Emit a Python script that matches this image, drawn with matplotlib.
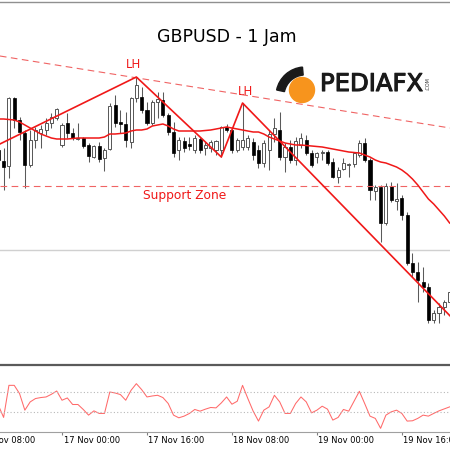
import matplotlib
matplotlib.use("Agg")
import matplotlib.pyplot as plt
import matplotlib.patheffects as pe
from matplotlib.patches import Circle, Wedge
from matplotlib.transforms import offset_copy

# jam relatif terhadap 17 Nov 00:00
hours = list(range(-12, 74))

opens = [1.3450, 1.3439, 1.3434, 1.3502, 1.3480, 1.3467, 1.3435, 1.3460, 1.3467, 1.3470,
         1.3477, 1.3482, 1.3455, 1.3477, 1.3467, 1.34615, 1.3462, 1.3455, 1.3443, 1.3454,
         1.3442, 1.3451, 1.3495, 1.3478, 1.3476, 1.3458, 1.3502, 1.3503, 1.3490, 1.3477,
         1.3498, 1.3500, 1.3485, 1.3468, 1.3450, 1.3459, 1.3456, 1.3450, 1.3461, 1.3452,
         1.3452, 1.3450, 1.3450, 1.3473, 1.3470, 1.3450, 1.3453, 1.3453, 1.3458, 1.3450,
         1.3437, 1.3450, 1.3466, 1.3470, 1.3443, 1.3453, 1.3440, 1.3455, 1.3460, 1.3447,
         1.3443, 1.3447, 1.3448, 1.3438, 1.3423, 1.3431, 1.3435, 1.3436, 1.3445, 1.3457,
         1.3440, 1.3409, 1.3413, 1.3377, 1.3414, 1.3399, 1.3402, 1.3385, 1.3337, 1.3328,
         1.3318, 1.3313, 1.3280, 1.3287, 1.3293, 1.3298]
highs = [1.3455, 1.3452, 1.3503, 1.3503, 1.3483, 1.3470, 1.3470, 1.3473, 1.3475, 1.3482,
         1.3487, 1.3492, 1.3477, 1.3487, 1.3472, 1.3477, 1.3463, 1.3457, 1.3455, 1.3458,
         1.3452, 1.3497, 1.3505, 1.3490, 1.3488, 1.3503, 1.3523, 1.3513, 1.3498, 1.3500,
         1.3508, 1.3508, 1.3487, 1.3478, 1.3463, 1.3463, 1.3463, 1.3465, 1.3463, 1.3458,
         1.3460, 1.3460, 1.3474, 1.3476, 1.3472, 1.3462, 1.3497, 1.3465, 1.3462, 1.3455,
         1.3460, 1.3470, 1.3482, 1.3488, 1.3457, 1.3460, 1.3463, 1.3467, 1.3465, 1.3450,
         1.3448, 1.3450, 1.3450, 1.3442, 1.3433, 1.3442, 1.3437, 1.3448, 1.3460, 1.3462,
         1.3442, 1.3415, 1.3415, 1.3417, 1.3418, 1.3417, 1.3405, 1.3388, 1.3347, 1.3338,
         1.3333, 1.3317, 1.3290, 1.3297, 1.3300, 1.3310]
lows = [1.3410, 1.3410, 1.3422, 1.3472, 1.3460, 1.3412, 1.3433, 1.3452, 1.3452, 1.3465,
        1.3472, 1.3480, 1.3453, 1.3462, 1.3460, 1.3460, 1.3452, 1.3438, 1.3442, 1.3438,
        1.3429, 1.3450, 1.3473, 1.3467, 1.3453, 1.3452, 1.3498, 1.3487, 1.3475, 1.3475,
        1.3482, 1.3483, 1.3465, 1.3443, 1.3440, 1.3448, 1.3450, 1.3447, 1.3447, 1.3445,
        1.3448, 1.3445, 1.3443, 1.3468, 1.3447, 1.3448, 1.3450, 1.3450, 1.3440, 1.3432,
        1.3433, 1.3430, 1.3458, 1.3440, 1.3428, 1.3437, 1.3435, 1.3452, 1.3445, 1.3433,
        1.3437, 1.3440, 1.3435, 1.3422, 1.3417, 1.3430, 1.3423, 1.3433, 1.3443, 1.3438,
        1.3400, 1.3400, 1.3358, 1.3375, 1.3398, 1.3390, 1.3380, 1.3335, 1.3323, 1.3298,
        1.3308, 1.3277, 1.3277, 1.3277, 1.3285, 1.3295]
closes = [1.3440, 1.3433, 1.3502, 1.3480, 1.3468, 1.3435, 1.3460, 1.3470, 1.3471, 1.3477,
          1.3483, 1.3491, 1.3475, 1.3467, 1.3462, 1.34625, 1.3454, 1.3444, 1.3454, 1.3441,
          1.3450, 1.3494, 1.3477, 1.3476, 1.3460, 1.3502, 1.3515, 1.3490, 1.3477, 1.3498,
          1.3501, 1.3485, 1.3468, 1.3447, 1.3460, 1.3452, 1.3454, 1.3462, 1.3450, 1.3455,
          1.3458, 1.3459, 1.3473, 1.3470, 1.3450, 1.3460, 1.3460, 1.3462, 1.3445, 1.3437,
          1.3457, 1.3466, 1.3472, 1.3443, 1.3453, 1.3440, 1.3459, 1.3462, 1.3447, 1.3435,
          1.3447, 1.3448, 1.3437, 1.3423, 1.3430, 1.3437, 1.3436, 1.3447, 1.3457, 1.3440,
          1.3410, 1.3413, 1.3377, 1.3414, 1.3400, 1.3401, 1.3385, 1.3337, 1.3328, 1.3320,
          1.3313, 1.3280, 1.3287, 1.3293, 1.3298, 1.3308]
ma = [1.3481, 1.3481, 1.34805, 1.3480, 1.3478, 1.3475, 1.3472, 1.3469, 1.3466, 1.3464,
      1.3462, 1.3461, 1.3461, 1.3461, 1.34615, 1.3462, 1.3462, 1.3462, 1.3462, 1.3462,
      1.3463, 1.3466, 1.3466, 1.34665, 1.3467, 1.3469, 1.3470, 1.3470, 1.3471, 1.3474,
      1.3475, 1.3476, 1.3474, 1.3471, 1.3469, 1.3469, 1.3469, 1.3469, 1.3469, 1.34695,
      1.3470, 1.3471, 1.3472, 1.3473, 1.3472, 1.3471, 1.3470, 1.3469, 1.3468, 1.3468,
      1.3466, 1.3463, 1.3461, 1.3459, 1.3457, 1.3456, 1.3455, 1.3455, 1.34545, 1.3454,
      1.34535, 1.3453, 1.3452, 1.3451, 1.3450, 1.3449, 1.3448, 1.34475, 1.3447, 1.3445,
      1.3443, 1.3440, 1.3438, 1.3437, 1.3435, 1.3433, 1.3430, 1.3426, 1.3421, 1.3415,
      1.3408, 1.3401, 1.3396, 1.3390, 1.3384, 1.3377]
cci = [-30, -153, 170, 170, 87, -80, 3, 37, 47, 53,
       80, 113, 20, 43, -23, -23, -73, -130, -87, -113,
       -113, 103, 93, 77, 20, 120, 187, 127, 53, 63,
       70, 47, -13, -130, -157, -140, -113, -73, -90, -70,
       -53, -57, -7, 53, -20, 10, 170, 37, -90, -190,
       -80, -47, 70, 3, -113, -113, -13, 53, 3, -107,
       -80, -40, -70, -180, -153, -73, -90, 10, 110, -13,
       -140, -163, -263, -130, -97, -80, -113, -190, -187, -163,
       -130, -140, -113, -87, -67, -47]

# garis analisa
trend_h = [-11.7, 73.1]
trend_p = [1.3544, 1.3472]
zigzag_h = [-11.7, 14, 30, 34, 73.1]
zigzag_p = [1.3456, 1.3523, 1.3443, 1.3497, 1.3284]
support = 1.3414
bid = 1.3350
cci_levels = [100, -100]

tick_hours = [-16, 0, 16, 32, 48, 64]
tick_labels = ["16 Nov 08:00", "17 Nov 00:00", "17 Nov 16:00",
               "18 Nov 08:00", "19 Nov 00:00", "19 Nov 16:00"]

RED = "#f01818"
RED_LIGHT = "#f06464"
XMIN, XMAX = -11.68, 73.07

fig = plt.figure(figsize=(4.5, 4.5), dpi=100)
ax = fig.add_axes([0, 87 / 450, 1, 361 / 450])
ind = fig.add_axes([0, 18 / 450, 1, 67.5 / 450])

# candle
for h, o, hi, lo, c in zip(hours, opens, highs, lows, closes):
    ax.vlines(h, lo, hi, color="#5a5a5a", lw=0.75, zorder=2)
bull = [(h, o, c) for h, o, c in zip(hours, opens, closes) if c >= o]
bear = [(h, o, c) for h, o, c in zip(hours, opens, closes) if c < o]
ax.bar([b[0] for b in bull], [max(b[2] - b[1], 0.00006) for b in bull],
       bottom=[b[1] for b in bull], width=0.58, color="white",
       edgecolor="#555555", lw=0.7, zorder=3)
ax.bar([b[0] for b in bear], [b[1] - b[2] for b in bear],
       bottom=[b[2] for b in bear], width=0.58, color="black",
       edgecolor="black", lw=0.5, zorder=3)

ax.axhline(bid, color="#d0d0d0", lw=1, zorder=1)
ax.plot(trend_h, trend_p, color=RED_LIGHT, lw=0.8, dashes=(6, 4), zorder=4)
ax.axhline(support, color=RED_LIGHT, lw=0.8, dashes=(6, 4), zorder=4)
ax.plot(hours, ma, color=RED, lw=1.1, zorder=4)
ax.plot(zigzag_h, zigzag_p, color=RED, lw=1.2, zorder=4)

ax.annotate("LH", xy=(zigzag_h[1], zigzag_p[1]), xytext=(-2, 9),
            textcoords="offset points", ha="center", va="center",
            color=RED, fontsize=8.5)
ax.annotate("LH", xy=(zigzag_h[3], zigzag_p[3]), xytext=(2, 8),
            textcoords="offset points", ha="center", va="center",
            color=RED, fontsize=8.5)
ax.annotate("Support Zone", xy=(23, support), xytext=(0, -7),
            textcoords="offset points", ha="center", va="center",
            color=RED, fontsize=8.8)

ax.text(0.504, 0.903, "GBPUSD - 1 Jam", transform=ax.transAxes,
        ha="center", va="center", fontsize=12.5, color="black")

ax.set_xlim(XMIN, XMAX)
ax.set_ylim(1.3237, 1.3598)
ax.set_xticks([])
ax.set_yticks([])
for s in ["left", "right", "bottom"]:
    ax.spines[s].set_visible(False)
ax.spines["top"].set_color("#909090")
ax.spines["top"].set_linewidth(1)

# indikator bawah
ind.plot(hours, cci, color="#ff6a6a", lw=0.75)
for lv in cci_levels:
    ind.axhline(lv, color="#b8b8b8", lw=0.8, ls=(0, (1, 2)))
ind.set_xlim(XMIN, XMAX)
ind.set_ylim(-300, 380)
ind.set_yticks([])
ind.set_xticks([t for t in tick_hours if XMIN <= t <= XMAX])
ind.tick_params(axis="x", length=2.2, width=0.8, color="#808080",
                labelbottom=False)
for s in ["left", "right"]:
    ind.spines[s].set_visible(False)
ind.spines["top"].set_color("#5a5a5a")
ind.spines["top"].set_linewidth(1.6)
ind.spines["bottom"].set_color("#a0a0a0")
ind.spines["bottom"].set_linewidth(0.8)

trans = offset_copy(ind.get_xaxis_transform(), fig=fig, x=1.5, y=0, units="dots")
for t, lbl in zip(tick_hours, tick_labels):
    ind.text(t, -0.12, lbl, transform=trans, ha="left", va="center",
             fontsize=6, color="black", clip_on=False)

# logo watermark
fig.add_artist(Circle((302 / 450, 1 - 90 / 450), 12.5 / 450,
                      transform=fig.transFigure, color="#f7941d", zorder=5))
fig.add_artist(Wedge((305 / 450, 1 - 96 / 450), 29 / 450, 95, 168,
                     width=8 / 450, transform=fig.transFigure,
                     color="#1a1a1a", zorder=6))
fig.text(320 / 450, 1 - 84 / 450, "PEDIAFX", ha="left", va="center",
         fontsize=17.5, color="#1a1a1a", zorder=6,
         path_effects=[pe.withStroke(linewidth=0.8, foreground="#1a1a1a")])
fig.text(428 / 450, 1 - 84 / 450, ".COM", ha="center", va="center",
         rotation=90, fontsize=3.5, color="#333333", zorder=6)

fig.savefig("out.png", dpi=100)
